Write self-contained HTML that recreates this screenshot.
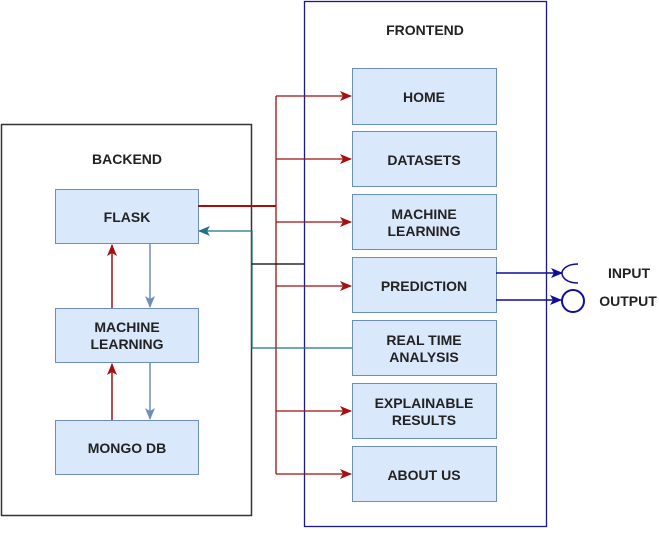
<!DOCTYPE html>
<html><head><meta charset="utf-8"><style>
html,body{margin:0;padding:0;background:#fff;}
svg{display:block;}
text{font-family:"Liberation Sans",Arial,sans-serif;font-size:14px;font-weight:bold;fill:#222;text-anchor:middle;}
</style></head><body>
<svg width="659" height="537" viewBox="0 0 659 537" xmlns="http://www.w3.org/2000/svg">
<defs>
<marker id="ar" markerWidth="12" markerHeight="12" refX="11" refY="6" orient="auto" markerUnits="userSpaceOnUse"><path d="M0,1 L12,6 L0,11 L3,6 Z" fill="#a50f0f"/></marker>
<marker id="ab" markerWidth="12" markerHeight="12" refX="11" refY="6" orient="auto" markerUnits="userSpaceOnUse"><path d="M0,1 L12,6 L0,11 L3,6 Z" fill="#6c8ebf"/></marker>
<marker id="at" markerWidth="12" markerHeight="12" refX="11" refY="6" orient="auto" markerUnits="userSpaceOnUse"><path d="M0,1 L12,6 L0,11 L3,6 Z" fill="#1f6f8b"/></marker>
<marker id="an" markerWidth="12" markerHeight="12" refX="11" refY="6" orient="auto" markerUnits="userSpaceOnUse"><path d="M0,1 L12,6 L0,11 L3,6 Z" fill="#0d0d9e"/></marker>
</defs>
<rect x="1.5" y="124.5" width="250" height="391" fill="#fff" stroke="#333" stroke-width="1.5"/>
<rect x="304.5" y="1.5" width="242" height="525" fill="none" stroke="#1a1a8c" stroke-width="1.3"/>
<text x="127" y="164">BACKEND</text>
<text x="425" y="35">FRONTEND</text>

<g fill="#dae8fc" stroke="#6c8ebf" stroke-width="1">
<rect x="55.5" y="189.5" width="143" height="54"/>
<rect x="55.5" y="308.5" width="143" height="54"/>
<rect x="55.5" y="420.5" width="143" height="54"/>
<rect x="352.5" y="68.5" width="144" height="56"/>
<rect x="352.5" y="131.5" width="144" height="55"/>
<rect x="352.5" y="194.5" width="144" height="55"/>
<rect x="352.5" y="257.5" width="144" height="55"/>
<rect x="352.5" y="320.5" width="144" height="55"/>
<rect x="352.5" y="383.5" width="144" height="55"/>
<rect x="352.5" y="446.5" width="144" height="55"/>
</g>
<text x="127" y="222">FLASK</text>
<text x="127" y="332">MACHINE</text><text x="127" y="349">LEARNING</text>
<text x="127" y="453">MONGO DB</text>
<text x="424" y="102">HOME</text>
<text x="424" y="165">DATASETS</text>
<text x="424" y="219">MACHINE</text><text x="424" y="236">LEARNING</text>
<text x="424" y="291">PREDICTION</text>
<text x="424" y="345">REAL TIME</text><text x="424" y="362">ANALYSIS</text>
<text x="424" y="408">EXPLAINABLE</text><text x="424" y="425">RESULTS</text>
<text x="424" y="480">ABOUT US</text>

<line x1="112" y1="308" x2="112" y2="245" stroke="#a50f0f" stroke-width="1.5" marker-end="url(#ar)"/>
<line x1="112" y1="420" x2="112" y2="364" stroke="#a50f0f" stroke-width="1.5" marker-end="url(#ar)"/>
<line x1="150" y1="244" x2="150" y2="307" stroke="#6c8ebf" stroke-width="1.5" marker-end="url(#ab)"/>
<line x1="150" y1="363" x2="150" y2="419" stroke="#6c8ebf" stroke-width="1.5" marker-end="url(#ab)"/>

<line x1="198" y1="206" x2="276" y2="206" stroke="#a50f0f" stroke-width="2"/>
<line x1="276" y1="96" x2="276" y2="474" stroke="#a50f0f" stroke-width="1.3"/>
<g stroke="#a50f0f" stroke-width="1.3">
<line x1="276" y1="96" x2="351" y2="96" marker-end="url(#ar)"/>
<line x1="276" y1="159" x2="351" y2="159" marker-end="url(#ar)"/>
<line x1="276" y1="222" x2="351" y2="222" marker-end="url(#ar)"/>
<line x1="276" y1="286" x2="351" y2="286" marker-end="url(#ar)"/>
<line x1="276" y1="411" x2="351" y2="411" marker-end="url(#ar)"/>
<line x1="276" y1="474" x2="351" y2="474" marker-end="url(#ar)"/>
</g>
<polyline points="352,348 252,348 252,231 199,231" fill="none" stroke="#1f6f8b" stroke-width="1.3" marker-end="url(#at)"/>
<line x1="252" y1="264" x2="304" y2="264" stroke="#000" stroke-width="1.3"/>

<line x1="496" y1="273" x2="562" y2="273" stroke="#0d0d9e" stroke-width="1.5" marker-end="url(#an)"/>
<path d="M578,264 C566,264 562,270 562,273 C562,277 566,283 578,283" fill="none" stroke="#0d0d9e" stroke-width="1.5"/>
<line x1="496" y1="300" x2="561" y2="300" stroke="#0d0d9e" stroke-width="1.5" marker-end="url(#an)"/>
<circle cx="573" cy="301" r="11" fill="none" stroke="#0d0d9e" stroke-width="2"/>
<text x="629" y="278">INPUT</text>
<text x="628" y="306">OUTPUT</text>
</svg>
</body></html>
